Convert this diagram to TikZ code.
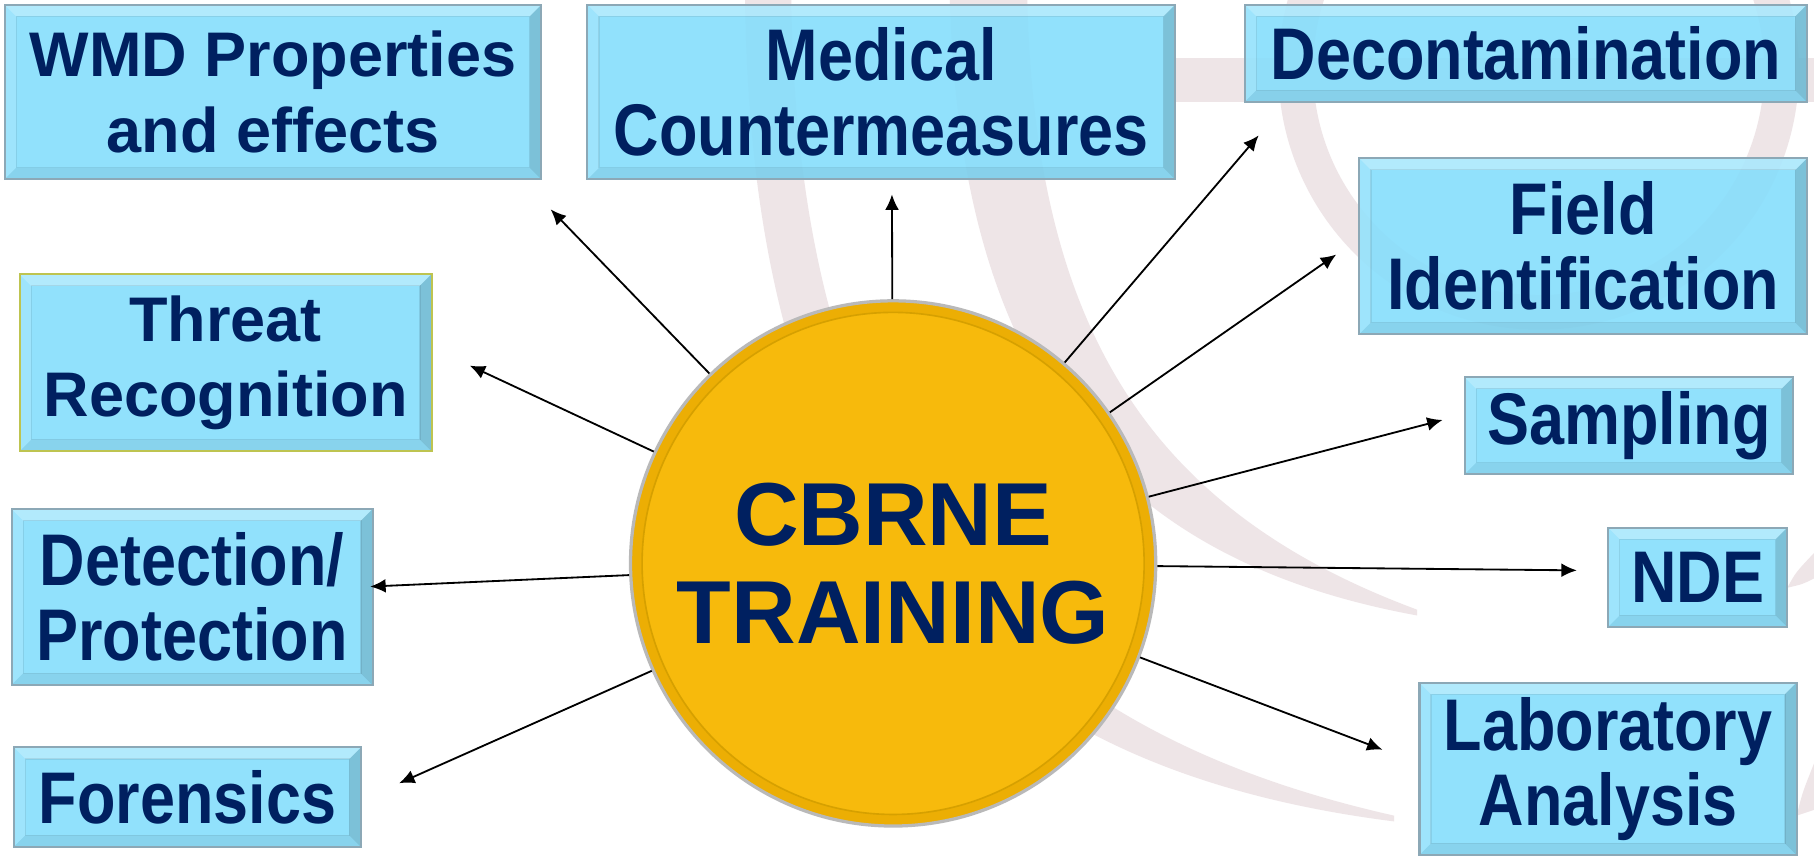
\documentclass[tikz,border=0pt]{standalone}
\usepackage{fontspec}
\setmainfont{Liberation Sans}
\newfontfamily\narrowfont{Liberation Sans}[FakeStretch=0.86]
\usetikzlibrary{positioning, arrows.meta}

\definecolor{navy}{RGB}{0,32,96}
\definecolor{boxfill}{RGB}{134,222,252}
\definecolor{boxedge}{RGB}{140,168,182}
\definecolor{threatedge}{RGB}{190,196,80}
\definecolor{gold}{RGB}{247,186,12}
\definecolor{goldrim}{RGB}{236,174,4}
\definecolor{goldline}{RGB}{214,160,0}
\definecolor{wmark}{RGB}{238,229,231}

\begin{document}
\begin{tikzpicture}[
		x=0.1mm, y=-0.1mm,
		box/.style={
			draw=boxedge, line width=0.5pt, fill=boxfill, fill opacity=0.9, text opacity=1,
			text=navy, align=center, inner sep=0pt,
			font=\bfseries\fontsize{15.5}{18.5}\selectfont,
			path picture={
				\path (path picture bounding box.north west) coordinate (bnw)
				      (path picture bounding box.south east) coordinate (bse);
				\fill[white, opacity=0.3] (bnw) -- (bnw -| bse) -- ([shift={(-1mm,-1mm)}]bnw -| bse) -- ([shift={(1mm,-1mm)}]bnw) -- cycle;
				\fill[white, opacity=0.12] (bnw) -- ([shift={(1mm,-1mm)}]bnw) -- ([shift={(1mm,1mm)}]bnw |- bse) -- (bnw |- bse) -- cycle;
				\fill[black, opacity=0.14] (bnw -| bse) -- (bse) -- ([shift={(-1mm,1mm)}]bse) -- ([shift={(-1mm,-1mm)}]bnw -| bse) -- cycle;
				\fill[black, opacity=0.06] (bnw |- bse) -- (bse) -- ([shift={(-1mm,1mm)}]bse) -- ([shift={(1mm,1mm)}]bnw |- bse) -- cycle;
				\draw[black, opacity=0.08, line width=0.3pt] ([shift={(1mm,-1mm)}]bnw) rectangle ([shift={(-1mm,1mm)}]bse);
			}
		},
		narrow/.style={font=\narrowfont\bfseries\fontsize{18}{18.5}\selectfont},
		hub/.style={
			circle, minimum size=45.4mm, inner sep=0pt, fill=goldrim, draw=gray!55, line width=0.8pt,
			text=navy, align=center, font=\bfseries\fontsize{22}{24}\selectfont,
			path picture={
				\fill[gold] (path picture bounding box.center) circle (21.7mm);
				\draw[goldline, line width=0.4pt] (path picture bounding box.center) circle (21.7mm);
			}
		},
		link/.style={-{Latex[length=3.8pt,width=3.4pt]}, line width=0.45pt}
	]

	\useasboundingbox (0,0) rectangle (1568,740);
	\fill[white] (0,0) rectangle (1568,740);

	% watermark behind everything
	\fill[wmark] (644,0) .. controls (650,470) and (850,665) .. (1205,710) -- (1205,705) .. controls (880,632) and (690,440) .. (684,0) -- cycle;
	\fill[wmark] (821,0) .. controls (830,300) and (940,480) .. (1225,532) -- (1225,527) .. controls (990,440) and (895,280) .. (888,0) -- cycle;
	\draw[wmark, line width=3mm] (1330,60) circle (21mm);
	\fill[wmark] (1015,50) rectangle (1568,88);
	\fill[wmark] (1545,508) .. controls (1552,495) .. (1568,478) -- (1568,500) .. controls (1558,505) .. (1545,508) -- cycle;
	\fill[wmark] (1553,705) .. controls (1558,685) .. (1568,660) -- (1568,700) -- cycle;

	\node[hub] (hub) at (772,487) {CBRNE\\TRAINING};

	\node[box, minimum width=46.4mm, minimum height=15.1mm] (wmd) at (236,79.5) {WMD Properties\\and effects};
	\node[box, narrow, minimum width=50.8mm, minimum height=15.1mm, right=3.8mm of wmd] (med) {Medical\\Countermeasures};
	\node[box, narrow, minimum width=48.6mm, minimum height=8.4mm] (decon) at (1319,46) {Decontamination};
	\node[box, narrow, minimum width=38.7mm, minimum height=15.2mm, below=4.7mm of decon.south east, anchor=north east] (field) {Field\\Identification};
	\node[box, narrow, minimum width=28.4mm, minimum height=8.4mm] (sampl) at (1408,368) {Sampling};
	\node[box, narrow, minimum width=15.5mm, minimum height=8.6mm] (nde) at (1467.5,499) {NDE};
	\node[box, narrow, minimum width=32.6mm, minimum height=14.9mm] (lab) at (1390,664.5) {Laboratory\\Analysis};
	\node[box, draw=threatedge, minimum width=35.6mm, minimum height=15.3mm] (threat) at (195,313.5) {Threat\\Recognition};
	\node[box, narrow, minimum width=31.2mm, minimum height=15.2mm] (detect) at (166,516) {Detection/\\Protection};
	\node[box, narrow, minimum width=30mm, minimum height=8.6mm] (foren) at (162,689) {Forensics};

	% arrow tips stop short of the boxes
	\coordinate (tWmd) at (476,181);
	\coordinate (tMed) at (771,168);
	\coordinate (tDecon) at (1088,117);
	\coordinate (tField) at (1155,220);
	\coordinate (tSampl) at (1247,363);
	\coordinate (tNde) at (1363,493);
	\coordinate (tLab) at (1195,648);
	\coordinate (tThreat) at (406,316);
	\coordinate (tDetect) at (320,507);
	\coordinate (tForen) at (345,677);

	\foreach \t in {tWmd, tMed, tDecon, tField, tSampl, tNde, tLab, tThreat, tDetect, tForen}
		\draw[link] (hub) -- (\t);
\end{tikzpicture}
\end{document}
